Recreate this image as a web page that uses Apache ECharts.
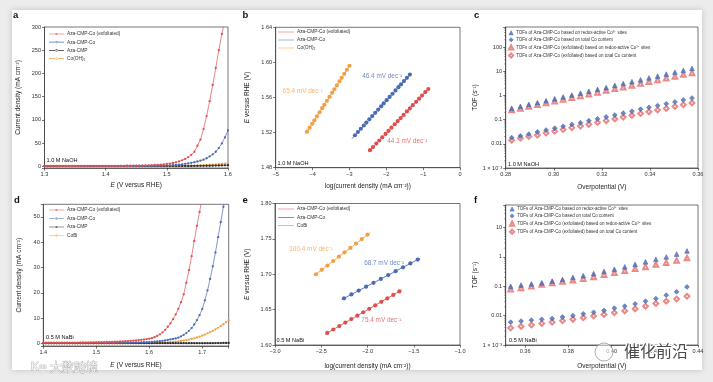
<!DOCTYPE html>
<html><head><meta charset="utf-8">
<script src="https://cdn.jsdelivr.net/npm/echarts@6/dist/echarts.min.js"></script>
<style>
html,body{margin:0;padding:0;background:#ececec;width:713px;height:382px;overflow:hidden;}
#card{position:absolute;left:12px;top:10px;width:690px;height:360px;background:#fff;box-shadow:0 0 6px rgba(0,0,0,0.18);}
#c{position:absolute;left:0;top:0;width:713px;height:382px;}
</style></head><body><div id="card"></div><div id="c"></div>
<script>
// ---------- Panel a (1.0 M NaOH LSV) ----------
const E_a = [1.300,1.305,1.310,1.315,1.320,1.325,1.330,1.335,1.340,1.345,1.350,1.355,1.360,1.365,1.370,1.375,1.380,1.385,1.390,1.395,1.400,1.405,1.410,1.415,1.420,1.425,1.430,1.435,1.440,1.445,1.450,1.455,1.460,1.465,1.470,1.475,1.480,1.485,1.490,1.495,1.500,1.505,1.510,1.515,1.520,1.525,1.530,1.535,1.540,1.545,1.550,1.555,1.560,1.565,1.570,1.575,1.580,1.585,1.590,1.595,1.600];
const a_exf = [0.3,0.3,0.3,0.3,0.3,0.3,0.3,0.3,0.3,0.3, 0.3,0.3,0.3,0.3,0.4,0.4,0.4,0.4,0.4,0.5, 0.5,0.5,0.5,0.6,0.6,0.7,0.7,0.8,0.9,1.0, 1.1,1.2,1.4,1.6,1.8,2.1,2.5,2.9,3.4,4.0, 4.7,5.6,6.8,8.3,10.2,12.6,15.6,19.5,24.5,31, 44,57,80,108,140,175,212,250,285,315];
const a_co = [0.2,0.2,0.2,0.2,0.2,0.2,0.2,0.2,0.2,0.2, 0.2,0.2,0.2,0.2,0.2,0.2,0.2,0.2,0.2,0.2, 0.2,0.2,0.2,0.2,0.2,0.3,0.3,0.3,0.3,0.3, 0.4,0.45,0.5,0.6,0.7,0.8,0.9,1.0,1.1,1.3, 1.5,1.8,2.2,2.7,3.3,4.0,4.9,6.0,7.2,8.5, 10,11.8,14,17,21,25.5,31,39,49,62,77];
const a_cmp = [0.1,0.1,0.1,0.1,0.1,0.1,0.1,0.1,0.1,0.1, 0.1,0.1,0.1,0.1,0.1,0.1,0.1,0.1,0.1,0.1, 0.1,0.1,0.1,0.1,0.1,0.1,0.1,0.1,0.1,0.1, 0.1,0.1,0.1,0.1,0.1,0.1,0.1,0.1,0.1,0.1, 0.1,0.1,0.15,0.15,0.2,0.2,0.25,0.3,0.35,0.4, 0.5,0.6,0.7,0.8,0.9,1.0,1.2,1.4,1.6,1.8,2.0];
const a_cooh = [0.1,0.1,0.1,0.1,0.1,0.1,0.1,0.1,0.1,0.1, 0.1,0.1,0.1,0.1,0.1,0.1,0.1,0.1,0.1,0.1, 0.1,0.1,0.1,0.1,0.1,0.1,0.1,0.1,0.1,0.1, 0.15,0.15,0.15,0.2,0.2,0.2,0.2,0.25,0.25,0.25, 0.3,0.35,0.4,0.5,0.6,0.7,0.8,0.9,1.0,1.2, 1.4,1.6,1.9,2.2,2.6,3.0,3.5,4.1,4.8,5.6,6.5];

// ---------- Panel b (Tafel, NaOH) ----------
const b_x_cooh = [-4.15,-4.08,-4.01,-3.95,-3.88,-3.81,-3.74,-3.68,-3.61,-3.54,-3.47,-3.41,-3.34,-3.27,-3.21,-3.14,-3.07,-3.00];
const b_y_cooh = [1.5210,1.5256,1.5301,1.5340,1.5386,1.5432,1.5478,1.5517,1.5563,1.5608,1.5654,1.5694,1.5739,1.5785,1.5824,1.5870,1.5916,1.5962];
const b_x_co = [-2.85,-2.77,-2.69,-2.61,-2.54,-2.46,-2.38,-2.30,-2.22,-2.14,-2.07,-1.99,-1.91,-1.83,-1.75,-1.67,-1.60,-1.52,-1.44,-1.36];
const b_y_co = [1.5170,1.5207,1.5244,1.5281,1.5314,1.5351,1.5388,1.5425,1.5462,1.5500,1.5532,1.5569,1.5606,1.5643,1.5681,1.5718,1.5750,1.5787,1.5824,1.5861];
const b_x_exf = [-2.44,-2.36,-2.27,-2.19,-2.11,-2.02,-1.94,-1.86,-1.77,-1.69,-1.61,-1.53,-1.44,-1.36,-1.28,-1.19,-1.11,-1.03,-0.94,-0.86];
const b_y_exf = [1.5000,1.5035,1.5075,1.5110,1.5146,1.5185,1.5220,1.5256,1.5295,1.5331,1.5366,1.5401,1.5441,1.5476,1.5512,1.5551,1.5587,1.5622,1.5662,1.5697];
const b_fit_cooh = [[-4.18,1.519],[-2.98,1.597]];
const b_fit_co = [[-2.93,1.513],[-1.32,1.588]];
const b_fit_exf = [[-2.48,1.498],[-0.84,1.571]];
const b_slopeText = ['65.4 mV dec⁻¹','46.4 mV dec⁻¹','44.1 mV dec⁻¹'];
const b_slopePos = [[-4.27,1.5677],[-2.11,1.5845],[-1.43,1.5096]];

// ---------- Panel c (TOF, NaOH) ----------
const c_eta = [0.2825,0.2861,0.2896,0.2932,0.2968,0.3004,0.3039,0.3075,0.3111,0.3146,0.3182,0.3218,0.3254,0.3289,0.3325,0.3361,0.3396,0.3432,0.3468,0.3504,0.3539,0.3575];
const c_redoxCo = [0.29,0.35,0.42,0.50,0.60,0.72,0.86,1.03,1.24,1.48,1.78,2.1,2.6,3.1,3.7,4.4,5.3,6.3,7.6,9.1,10.9,13.1];
const c_totalCo = [0.018,0.021,0.025,0.031,0.037,0.044,0.053,0.063,0.075,0.090,0.108,0.129,0.155,0.185,0.22,0.27,0.32,0.38,0.45,0.54,0.65,0.78];
const c_redoxExf = [0.25,0.29,0.35,0.41,0.49,0.58,0.68,0.81,0.96,1.13,1.34,1.59,1.88,2.2,2.6,3.1,3.7,4.4,5.2,6.1,7.3,8.6];
const c_totalExf = [0.014,0.017,0.020,0.023,0.028,0.033,0.039,0.046,0.054,0.064,0.076,0.090,0.107,0.127,0.150,0.18,0.21,0.25,0.29,0.35,0.41,0.49];

// ---------- Panel d (0.5 M NaBi LSV) ----------
const E_d = [1.400,1.405,1.410,1.415,1.420,1.425,1.430,1.435,1.440,1.445,1.450,1.455,1.460,1.465,1.470,1.475,1.480,1.485,1.490,1.495,1.500,1.505,1.510,1.515,1.520,1.525,1.530,1.535,1.540,1.545,1.550,1.555,1.560,1.565,1.570,1.575,1.580,1.585,1.590,1.595,1.600,1.605,1.610,1.615,1.620,1.625,1.630,1.635,1.640,1.645,1.650,1.655,1.660,1.665,1.670,1.675,1.680,1.685,1.690,1.695,1.700,1.705,1.710,1.715,1.720,1.725,1.730,1.735,1.740,1.745,1.750];
const d_exf = [0.30,0.30,0.30,0.30,0.31,0.31,0.32,0.32,0.33,0.33,0.34,0.35,0.36,0.37,0.38,0.39,0.40,0.42,0.44,0.46, 0.48,0.50,0.52,0.55,0.58,0.61,0.64,0.68,0.72,0.77,0.82,0.88,0.95,1.03,1.12,1.22,1.33,1.45,1.58,1.72, 1.9,2.1,2.5,3.0,3.6,4.4,5.4,6.6,8.0,9.6,11.5,13.7,16.3,19.4,24.0,29,34.5,40.5,46.5,52, 57.5];
const d_co = [0.10,0.10,0.10,0.10,0.10,0.10,0.10,0.10,0.10,0.10,0.11,0.11,0.11,0.12,0.12,0.12,0.13,0.13,0.14,0.14, 0.15,0.15,0.16,0.17,0.18,0.19,0.20,0.21,0.22,0.24,0.26,0.28,0.30,0.32,0.35,0.38,0.41,0.45,0.50,0.52, 0.55,0.6,0.7,0.8,0.9,1.05,1.2,1.4,1.6,1.8,2.0,2.3,2.8,3.4,4.1,5.0,6.1,7.5,9.2,11.2, 13.6,17,21,25.5,30.5,36,42,48,54,60];
const d_cmp = [0.1,0.1,0.1,0.1,0.1,0.1,0.1,0.1,0.1,0.1,0.1,0.1,0.1,0.1,0.1,0.1,0.1,0.1,0.1,0.1, 0.1,0.1,0.1,0.1,0.1,0.1,0.1,0.1,0.1,0.1,0.1,0.1,0.1,0.1,0.1,0.1,0.1,0.1,0.1,0.1, 0.1,0.1,0.1,0.1,0.1,0.1,0.1,0.1,0.1,0.1,0.1,0.1,0.1,0.1,0.1,0.1,0.1,0.1,0.1,0.1, 0.1,0.1,0.1,0.1,0.1,0.15,0.15,0.15,0.2,0.2,0.2];
const d_cobi = [0.05,0.05,0.05,0.05,0.05,0.05,0.05,0.05,0.05,0.05,0.05,0.05,0.05,0.05,0.05,0.05,0.05,0.05,0.05,0.05, 0.06,0.06,0.06,0.07,0.07,0.07,0.08,0.08,0.08,0.09,0.09,0.09,0.1,0.1,0.1,0.11,0.11,0.12,0.13,0.14, 0.15,0.17,0.2,0.23,0.27,0.32,0.38,0.45,0.53,0.62,0.72,0.85,1.0,1.15,1.35,1.55,1.8,2.05,2.35,2.7, 3.1,3.5,4.0,4.5,5.0,5.6,6.2,6.9,7.6,8.4,9.2];

// ---------- Panel e (Tafel, NaBi) ----------
const e_x_cobi = [-2.557,-2.495,-2.433,-2.371,-2.309,-2.248,-2.186,-2.124,-2.062,-2.000];
const e_y_cobi = [1.7000,1.7062,1.7124,1.7187,1.7249,1.7310,1.7372,1.7434,1.7497,1.7559];
const e_x_co = [-2.254,-2.174,-2.095,-2.015,-1.935,-1.856,-1.776,-1.696,-1.616,-1.537,-1.457];
const e_y_co = [1.6660,1.6715,1.6769,1.6824,1.6879,1.6934,1.6988,1.7043,1.7098,1.7153,1.7208];
const e_x_exf = [-2.435,-2.370,-2.305,-2.240,-2.175,-2.110,-2.046,-1.981,-1.916,-1.851,-1.786,-1.721,-1.656];
const e_y_exf = [1.6170,1.6219,1.6268,1.6317,1.6366,1.6415,1.6463,1.6512,1.6561,1.6610,1.6659,1.6708,1.6757];
const e_fit_cobi = [[-2.58,1.6977],[-1.97,1.7589]];
const e_fit_co = [[-2.28,1.6642],[-1.43,1.7226]];
const e_fit_exf = [[-2.46,1.6151],[-1.63,1.6777]];
const e_slopeText = ['100.4 mV dec⁻¹','68.7 mV dec⁻¹','75.4 mV dec⁻¹'];
const e_slopePos = [[-2.61,1.7353],[-1.82,1.7149],[-1.85,1.6353]];

// ---------- Panel f (TOF, NaBi) ----------
const f_eta = [0.3533,0.3581,0.3629,0.3677,0.3725,0.3773,0.3821,0.3869,0.3917,0.3965,0.4013,0.4061,0.4109,0.4157,0.4205,0.4253,0.4301,0.4349];
const f_redoxCo = [0.10,0.11,0.12,0.13,0.15,0.17,0.20,0.23,0.27,0.32,0.38,0.46,0.56,0.68,0.83,1.0,1.25,1.6];
const f_totalCo = [0.006,0.0065,0.007,0.0075,0.008,0.009,0.010,0.0115,0.013,0.015,0.018,0.021,0.025,0.031,0.038,0.050,0.065,0.095];
const f_redoxExf = [0.079,0.088,0.10,0.115,0.13,0.145,0.16,0.18,0.21,0.25,0.29,0.34,0.40,0.46,0.55,0.64,0.76,0.92];
const f_totalExf = [0.0038,0.0043,0.0048,0.0054,0.0060,0.0067,0.0075,0.0085,0.0097,0.0110,0.0125,0.0145,0.0170,0.0210,0.0260,0.0310,0.0370,0.0460];

// ---------- Labels ----------
const tofNames = ['TOFs of Aza-CMP-Co based on redox-active Co³⁺ sites','TOFs of Aza-CMP-Co based on total Co content','TOFs of Aza-CMP-Co (exfoliated) based on redox-active Co³⁺ sites','TOFs of Aza-CMP-Co (exfoliated) based on total Co content'];
const tofSymbols = ['triangle','diamond','emptyTriangle','emptyDiamond'];
const logTickLabels = {'-3':'1 × 10⁻³','-2':'0.01','-1':'0.1','0':'1','1':'10','2':'100'};

const FONT = '"Liberation Sans", Arial, Helvetica, sans-serif';
const RED = '#de5050', BLUE = '#4a6cb4', ORANGE = '#f2a047', BLACK = '#2e2e2e';
const RED_L = '#e66a6a';
const AX = '#3a3a3a';

const pairs = (xs, ys) => ys.map((y, i) => [xs[i], y]);
const logPairs = (xs, ys) => ys.map((y, i) => [xs[i], Math.log10(y)]);
const minus = s => s.replace('-', '\u2212');

const gridBox = [
  {left:44.5, top:27, width:183.5, height:141},
  {left:275.7, top:27.3, width:184.3, height:140.4},
  {left:505.7, top:27, width:192.3, height:141},
  {left:43.3, top:204.3, width:185.4, height:141.7},
  {left:275, top:203.5, width:185, height:141.5},
  {left:505.7, top:205, width:192.3, height:140}
];
const grid = gridBox.map(g => Object.assign({show:true, borderColor:AX, borderWidth:0.7, backgroundColor:'transparent', containLabel:false}, g));

const richName = {i:{fontStyle:'italic', fontSize:6.5, fontFamily:FONT, color:'#222'}};
function axis(gi, o) {
  return Object.assign({
    type:'value', gridIndex:gi, scale:false,
    axisLine:{show:true, onZero:false, lineStyle:{color:AX, width:0.7}},
    axisTick:{show:true, length:2.5, inside:false, lineStyle:{color:AX, width:0.7}},
    axisLabel:{fontSize:5.6, color:'#333', fontFamily:FONT, margin:3.5, formatter:o.fmt, showMinLabel:true, showMaxLabel:true, hideOverlap:false},
    splitLine:{show:false},
    nameLocation:'middle',
    nameTextStyle:{fontSize:6.5, color:'#222', fontFamily:FONT, rich:richName}
  }, o);
}
const near = (v, step) => Math.abs(v/step - Math.round(v/step)) < 1e-6;

const xAxis = [
  axis(0, {min:1.3, max:1.6, interval:0.1, fmt:v=>v.toFixed(1), name:'{i|E} (V versus RHE)', nameGap:13.5}),
  axis(1, {min:-5, max:0, interval:1, fmt:v=>minus(String(v)), name:'log(current density (mA cm⁻²))', nameGap:15}),
  axis(2, {min:0.28, max:0.36, interval:0.02, fmt:v=>v.toFixed(2), name:'Overpotential (V)', nameGap:16}),
  axis(3, {min:1.4, max:1.75, splitNumber:4, fmt:v=>near(v,0.1)?v.toFixed(1):'', name:'{i|E} (V versus RHE)', nameGap:16}),
  axis(4, {min:-3, max:-1, interval:0.5, fmt:v=>minus(v.toFixed(1)), name:'log(current density (mA cm⁻²))', nameGap:18}),
  axis(5, {min:0.351, max:0.44, splitNumber:5, fmt:v=>near(v,0.02)?v.toFixed(2):'', name:'Overpotential (V)', nameGap:17.5})
];
const yAxis = [
  axis(0, {min:-4, max:300, splitNumber:6, fmt:v=>(v>=0&&near(v,50))?String(v):'', name:'Current density (mA cm⁻²)', nameGap:23}),
  axis(1, {min:1.48, max:1.64, interval:0.04, fmt:v=>v.toFixed(2), name:'{i|E} versus RHE (V)', nameGap:25}),
  axis(2, {min:-3, max:2.83, interval:1, fmt:v=>near(v,1)?(logTickLabels[String(Math.round(v))]||''):'', name:'TOF (s⁻¹)', nameGap:22}),
  axis(3, {min:-1, max:55, splitNumber:5, fmt:v=>(v>=0&&v<=50&&near(v,10))?String(v):'', name:'Current density (mA cm⁻²)', nameGap:21}),
  axis(4, {min:1.6, max:1.8, interval:0.05, fmt:v=>v.toFixed(2), name:'{i|E} versus RHE (V)', nameGap:24}),
  axis(5, {min:-3, max:1.77, interval:1, fmt:v=>near(v,1)?(logTickLabels[String(Math.round(v))]||''):'', name:'TOF (s⁻¹)', nameGap:23})
];

const series = [];
function lsv(gi, p, name, xs, ys, color, z) {
  series.push({type:'line', name:p+'|'+name, xAxisIndex:gi, yAxisIndex:gi, data:pairs(xs, ys),
    symbol:'circle', symbolSize:2.3, showSymbol:true, showAllSymbol:true, clip:true,
    lineStyle:{width:0.7, color}, itemStyle:{color}, z, animation:false, emphasis:{disabled:true}});
}
lsv(0,'a','Co(OH)₂',E_a,a_cooh,ORANGE,2);
lsv(0,'a','Aza-CMP',E_a,a_cmp,BLACK,3);
lsv(0,'a','Aza-CMP-Co',E_a,a_co,BLUE,4);
lsv(0,'a','Aza-CMP-Co (exfoliated)',E_a,a_exf,RED,5);
lsv(3,'d','CoBi',E_d,d_cobi,ORANGE,2);
lsv(3,'d','Aza-CMP',E_d,d_cmp,BLACK,3);
lsv(3,'d','Aza-CMP-Co',E_d,d_co,BLUE,4);
lsv(3,'d','Aza-CMP-Co (exfoliated)',E_d,d_exf,RED,5);

function tafel(gi, p, name, xs, ys, fit, color) {
  series.push({type:'line', name:p+'|'+name, xAxisIndex:gi, yAxisIndex:gi, data:fit, symbol:'none', showSymbol:false,
    lineStyle:{width:0.9, color}, itemStyle:{color}, z:2, animation:false, emphasis:{disabled:true}});
  series.push({type:'scatter', name:p+'|dots '+name, xAxisIndex:gi, yAxisIndex:gi, data:pairs(xs, ys), symbol:'circle', symbolSize:4.2,
    itemStyle:{color, opacity:1}, z:3, animation:false, emphasis:{disabled:true}});
}
tafel(1,'b','Co(OH)₂',b_x_cooh,b_y_cooh,b_fit_cooh,ORANGE);
tafel(1,'b','Aza-CMP-Co',b_x_co,b_y_co,b_fit_co,BLUE);
tafel(1,'b','Aza-CMP-Co (exfoliated)',b_x_exf,b_y_exf,b_fit_exf,RED);
tafel(4,'e','CoBi',e_x_cobi,e_y_cobi,e_fit_cobi,ORANGE);
tafel(4,'e','Aza-CMP-Co',e_x_co,e_y_co,e_fit_co,BLUE);
tafel(4,'e','Aza-CMP-Co (exfoliated)',e_x_exf,e_y_exf,e_fit_exf,RED);

function slopeLabels(gi, texts, pos) {
  const cols = [ORANGE, BLUE, RED];
  series.push({type:'scatter', name:'slopes'+gi, xAxisIndex:gi, yAxisIndex:gi, symbolSize:1, itemStyle:{color:'rgba(0,0,0,0)'},
    data: pos.map((p,i)=>({value:p, t:texts[i], label:{color:cols[i]}})),
    label:{show:true, position:'inside', formatter:q=>q.data.t, fontSize:6.4, fontFamily:FONT},
    z:6, animation:false, silent:true});
}
slopeLabels(1, b_slopeText, b_slopePos);
slopeLabels(4, e_slopeText, e_slopePos);

const tofColors = [BLUE, BLUE, RED_L, RED_L];
const tofSizes = [4.6, 4.8, 4.6, 4.8];
function tof(gi, p, xs, sets) {
  sets.forEach((ys, i) => {
    series.push({type:'scatter', name:p+'|'+tofNames[i], xAxisIndex:gi, yAxisIndex:gi, data:logPairs(xs, ys),
      symbol:tofSymbols[i], symbolSize:tofSizes[i], itemStyle:{color:tofColors[i], borderColor:tofColors[i], borderWidth:0.8},
      z:3+(3-i), animation:false, emphasis:{disabled:true}});
  });
}
tof(2,'c',c_eta,[c_redoxCo,c_totalCo,c_redoxExf,c_totalExf]);
tof(5,'f',f_eta,[f_redoxCo,f_totalCo,f_redoxExf,f_totalExf]);

// log minor ticks on the TOF axes
function minorTicks(gi, xMin, lo, hi) {
  const vals = [];
  for (let n = lo; n < hi; n++) for (let k = 2; k <= 9; k++) { const v = n + Math.log10(k); if (v < hi) vals.push([xMin, v]); }
  series.push({type:'custom', name:'minor'+gi, xAxisIndex:gi, yAxisIndex:gi, silent:true, clip:false, data:vals, animation:false,
    renderItem:(params, api) => { const pt = api.coord([api.value(0), api.value(1)]);
      return {type:'line', shape:{x1:pt[0]-1.5, y1:pt[1], x2:pt[0], y2:pt[1]}, style:{stroke:AX, lineWidth:0.5}}; }});
}
minorTicks(2, 0.28, -3, 2.83);
minorTicks(5, 0.351, -3, 1.77);

// legend icons: plain line, and line with a small marker
const ICON_LINE = 'path://M0,0L0.01,0M0,4.4L20,4.4L20,5.6L0,5.6ZM20,10L20.01,10';
const ICON_LINE_DOT = 'path://M0,0L0.01,0M0,4.4L20,4.4L20,5.6L0,5.6ZM8.2,5A1.8,1.8,0,1,0,11.8,5A1.8,1.8,0,1,0,8.2,5ZM20,10L20.01,10';
const fmtLegend = n => n.split('|')[1];
function leg(left, top, items, iw, ih, gap, fs, keep) {
  return {left, top, orient:'vertical', itemWidth:iw, itemHeight:ih, itemGap:gap, padding:0, selectedMode:false, symbolKeepAspect:!!keep,
    data:items, formatter:fmtLegend,
    textStyle:{fontSize:fs, color:'#333', fontFamily:FONT, lineHeight:ih, padding:[0,0,0,-2]}};
}
const withIcon = (names, icon) => names.map(n => ({name:n, icon}));
const tofItems = p => tofNames.map((n, i) => ({name:p+'|'+n, icon:tofSymbols[i], itemStyle:{color:tofColors[i], borderColor:tofColors[i], borderWidth:0.7}}));
const legend = [
  leg(49, 31, withIcon(['a|Aza-CMP-Co (exfoliated)','a|Aza-CMP-Co','a|Aza-CMP','a|Co(OH)₂'], ICON_LINE_DOT), 15, 6, 2.2, 4.8),
  leg(278, 29, withIcon(['b|Aza-CMP-Co (exfoliated)','b|Aza-CMP-Co','b|Co(OH)₂'], ICON_LINE), 16, 6, 2, 4.8),
  leg(508, 30.3, tofItems('c'), 4.2, 4.2, 2, 4.5, true),
  leg(49, 207, withIcon(['d|Aza-CMP-Co (exfoliated)','d|Aza-CMP-Co','d|Aza-CMP','d|CoBi'], ICON_LINE_DOT), 15, 6, 2.5, 4.8),
  leg(278, 206, withIcon(['e|Aza-CMP-Co (exfoliated)','e|Aza-CMP-Co','e|CoBi'], ICON_LINE), 16, 6, 2.3, 4.8),
  leg(509, 206.5, tofItems('f'), 4.2, 4.2, 2, 4.5, true)
];

const T = (x, y, text, o) => Object.assign({type:'text', x, y, z:50, style:Object.assign({text, fill:'#111', font:'5.6px '+FONT, verticalAlign:'middle', align:'left'}, o||{})});
const graphic = [
  T(13, 15, 'a', {font:'bold 9.5px '+FONT}),
  T(242.5, 15, 'b', {font:'bold 9.5px '+FONT}),
  T(474, 15, 'c', {font:'bold 9.5px '+FONT}),
  T(14, 200.5, 'd', {font:'bold 9.5px '+FONT}),
  T(242.5, 200.5, 'e', {font:'bold 9.5px '+FONT}),
  T(474, 200.5, 'f', {font:'bold 9.5px '+FONT}),
  T(46.5, 160.5, '1.0 M NaOH'),
  T(277.5, 163.3, '1.0 M NaOH'),
  T(508, 164.3, '1.0 M NaOH'),
  T(46, 337.5, '0.5 M NaBi'),
  T(276.5, 340.5, '0.5 M NaBi'),
  T(509, 340, '0.5 M NaBi'),
  // watermarks
  T(31, 367, 'K∞', {font:'bold 11px '+FONT, fill:'#f3f3f3', stroke:'#a8a8a8', lineWidth:0.7}),
  T(50, 367, '大数跨境', {font:'12px "Noto Sans CJK SC"', fill:'#f3f3f3', stroke:'#a0a0a0', lineWidth:0.7}),
  {type:'circle', z:60, shape:{cx:604, cy:352, r:9}, style:{fill:'rgba(255,255,255,0.55)', stroke:'#9a9a9a', lineWidth:0.8}},
  T(624, 351, '催化前沿', {font:'16px "Noto Sans CJK SC"', fill:'#4a4a4a', stroke:'#ffffff', lineWidth:2.5, z:61})
];

const chart = echarts.init(document.getElementById('c'), null, {renderer:'canvas', width:713, height:382});
chart.setOption({animation:false, backgroundColor:'transparent', textStyle:{fontFamily:FONT}, grid, xAxis, yAxis, series, legend, graphic});
</script></body></html>
